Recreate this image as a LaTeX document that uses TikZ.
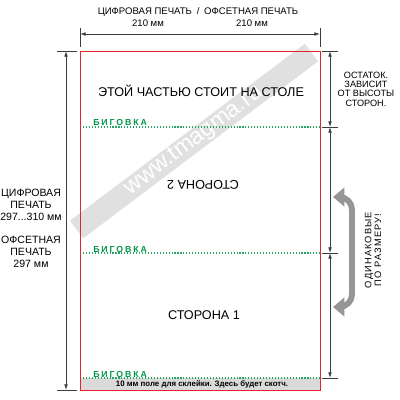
\documentclass[tikz,border=0pt]{standalone}
\usepackage{fontspec}
\setmainfont{Liberation Sans}
\newfontfamily\foldfont[LetterSpace=22]{Liberation Sans}
\newfontfamily\trackfont[LetterSpace=12]{Liberation Sans}
\definecolor{cutred}{RGB}{230,35,45}
\definecolor{foldgreen}{RGB}{0,150,70}
\definecolor{gluegray}{RGB}{218,218,218}
\definecolor{wmgray}{RGB}{224,224,224}
\definecolor{dimgray}{RGB}{60,60,60}
\definecolor{hintgray}{RGB}{150,150,150}
\usetikzlibrary{arrows.meta,positioning}

\begin{document}
\begin{tikzpicture}[x=0.025cm,y=-0.025cm,
  dim/.style={dimgray,line width=0.55pt,{Latex[length=4pt,width=2.6pt]}-{Latex[length=4pt,width=2.6pt]}},
  ext/.style={dimgray,line width=0.5pt},
  fold/.style={foldgreen!85,line width=0.8pt,dash pattern=on 0.8pt off 1.3pt},
  foldlbl/.style={foldgreen,font=\foldfont\bfseries\fontsize{6.2}{7}\selectfont,inner sep=0pt},
  lbl/.style={align=center,inner sep=0pt,font=\fontsize{6.8}{8.5}\selectfont},
  big/.style={inner sep=0pt,font=\fontsize{9}{10}\selectfont},
  hint/.style={hintgray,line width=4.2pt,rounded corners=9pt,
    {Triangle[length=8pt,width=13pt]}-{Triangle[length=8pt,width=13pt]}},
  wm/.style={fill=wmgray,text=white,rotate=37,minimum width=7.35cm,minimum height=0.55cm,
    inner sep=0pt,font=\fontsize{16.5}{17}\selectfont}
]
  \useasboundingbox[fill=white] (0,0) rectangle (400,400);

  % watermark
  \node[wm] (mark) at (194,141) {www.tmagma.ru};

  % sheet corners
  \coordinate (tl) at (80,51);
  \coordinate (br) at (320,390);

  % glue strip
  \fill[gluegray] (80,378) rectangle (br);
  \node[inner sep=0pt,font=\bfseries\fontsize{5.6}{6}\selectfont] (glue) at (202,384)
    {10 мм поле для склейки. Здесь будет скотч.};

  % fold lines
  \foreach \y/\n in {127/1,253/2,378/3} {
    \draw[fold] (80,\y) -- (320,\y);
    \node[foldlbl,anchor=base west] (fold\n) at (93,\y-1) {БИГОВКА};
  }

  % sheet
  \draw[cutred,line width=0.7pt] (tl) rectangle (br);
  \node[big] (table) at (201,90.5) {ЭТОЙ ЧАСТЬЮ СТОИТ НА СТОЛЕ};
  \node[big,rotate=180] (side2) at (203,185) {СТОРОНА 2};
  \node[big] (side1) at (204,315) {СТОРОНА 1};

  % width
  \draw[ext] (80,28) -- (80,47);
  \draw[ext] (320,28) -- (320,47);
  \draw[dim] (80,34) -- (320,34);
  \node[lbl] (kinds) at (198,12) {ЦИФРОВАЯ ПЕЧАТЬ\enspace/\enspace ОФСЕТНАЯ ПЕЧАТЬ};
  \node[lbl] (wdig) at (148,23) {210 мм};
  \node[lbl] (woff) at (252,23) {210 мм};

  % height
  \draw[ext] (57,51) -- (77,51);
  \draw[ext] (57,390) -- (77,390);
  \draw[dim] (66,51) -- (66,390);
  \node[lbl,font=\fontsize{7.5}{8.6}\selectfont] (hdig) at (31,205) {ЦИФРОВАЯ\\ПЕЧАТЬ\\297...310 мм};
  \node[lbl,font=\fontsize{7.5}{8.6}\selectfont] (hoff) at (31,252) {ОФСЕТНАЯ\\ПЕЧАТЬ\\297 мм};

  % parts
  \foreach \y in {51,127,253,378}
    \draw[ext] (322,\y) -- (338,\y);
  \draw[dim] (330,51) -- (330,127);
  \draw[dim] (330,127) -- (330,253);
  \draw[dim] (330,253) -- (330,378);
  \node[align=center,inner sep=0pt,font=\fontsize{6.5}{6.7}\selectfont] (rest) at (366,89)
    {ОСТАТОК.\\ЗАВИСИТ\\ОТ ВЫСОТЫ\\СТОРОН.};
  \draw[hint] (333,197) -| (352,250) |- (333,307);
  \node[rotate=90,align=center,inner sep=0pt,font=\trackfont\fontsize{6.6}{7}\selectfont] (same) at (373,250)
    {ОДИНАКОВЫЕ\\ПО РАЗМЕРУ!};
\end{tikzpicture}
\end{document}
